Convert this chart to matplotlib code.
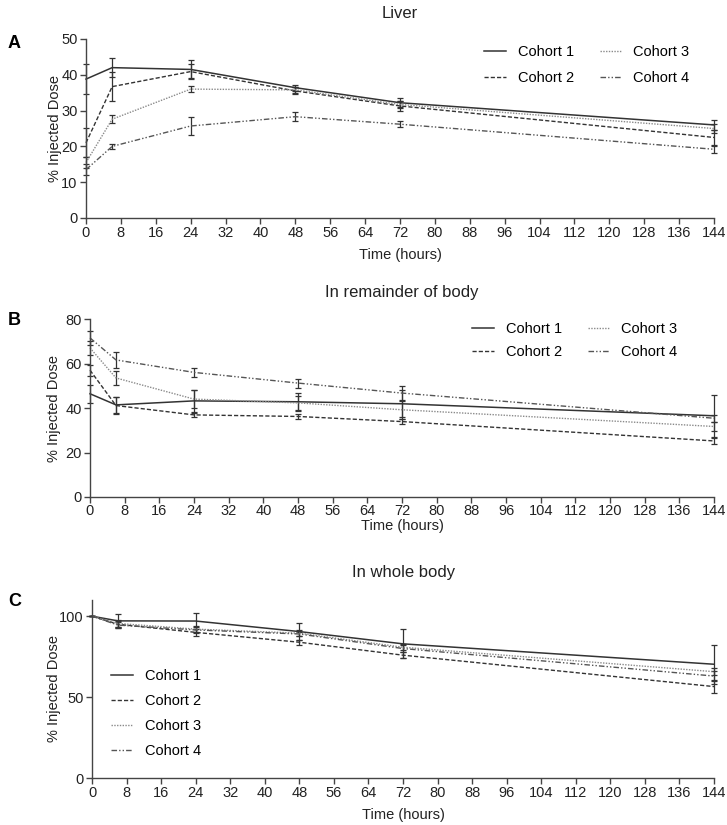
import numpy as np
import matplotlib
matplotlib.use("Agg")
import matplotlib.pyplot as plt

plt.rcParams['font.family'] = ['Liberation Sans', 'DejaVu Sans']

# time points (hours)
hours = [0, 6, 24, 48, 72, 144]
cohorts = ["Cohort 1", "Cohort 2", "Cohort 3", "Cohort 4"]
xticks = list(range(0, 145, 8))

# Liver, % injected dose (mean, error)
liver_c1 = [38.8, 42.0, 41.5, 36.4, 32.2, 26.0]
liver_c2 = [21.0, 36.7, 40.9, 35.5, 31.3, 22.5]
liver_c3 = [15.5, 27.6, 36.0, 35.8, 31.7, 25.0]
liver_c4 = [13.5, 20.0, 25.7, 28.3, 26.2, 19.2]
liver_e1 = [4.2, 2.7, 2.5, 0.8, 1.2, 1.5]
liver_e2 = [4.0, 4.0, 2.0, 1.0, 1.5, 2.0]
liver_e3 = [1.5, 1.2, 0.8, 0.8, 1.0, 1.2]
liver_e4 = [1.5, 0.8, 2.5, 1.2, 0.8, 1.0]

# remainder of body
rem_c1 = [46.4, 41.4, 43.2, 42.8, 41.9, 36.5]
rem_c2 = [57.0, 41.1, 36.9, 36.2, 33.9, 25.2]
rem_c3 = [67.0, 53.5, 44.0, 42.3, 39.2, 31.7]
rem_c4 = [71.5, 61.6, 56.0, 51.2, 46.7, 35.4]
rem_e1 = [4.0, 3.5, 5.0, 4.0, 6.0, 9.5]
rem_e2 = [2.5, 4.0, 1.0, 1.0, 1.0, 1.5]
rem_e3 = [3.0, 3.0, 4.0, 3.0, 4.0, 2.0]
rem_e4 = [3.0, 3.5, 2.0, 2.0, 3.0, 1.5]

# whole body
whole_c1 = [100.0, 97.1, 97.0, 90.5, 82.9, 70.3]
whole_c2 = [100.0, 95.0, 90.0, 83.9, 75.9, 56.5]
whole_c3 = [100.0, 95.5, 92.0, 89.5, 80.8, 65.7]
whole_c4 = [100.0, 94.5, 91.5, 89.0, 80.0, 63.0]
whole_e1 = [0.0, 4.0, 5.0, 5.0, 9.0, 12.0]
whole_e2 = [0.0, 2.0, 2.0, 1.5, 2.0, 4.0]
whole_e3 = [0.0, 2.0, 2.0, 2.0, 2.0, 2.0]
whole_e4 = [0.0, 2.0, 2.0, 1.5, 2.0, 3.0]

W, H = 727, 825
styles = [
    dict(color='#333333', linestyle='-', lw=1.1),
    dict(color='#333333', linestyle=(0, (3, 1.5)), lw=1.0),
    dict(color='#8a8a8a', linestyle=(0, (1, 1)), lw=1.0),
    dict(color='#555555', linestyle=(0, (4, 1.5, 1, 1.5, 1, 1.5)), lw=1.0),
]


def px_axes(fig, left, top, right, bottom):
    return fig.add_axes([left / W, 1 - bottom / H, (right - left) / W, (bottom - top) / H])


def fx(x):
    return x / W


def fy(y):
    return 1 - y / H


def draw_panel(ax, means, errs, ymax, yticks):
    handles = []
    for m, e, st in zip(means, errs, styles):
        c = ax.errorbar(hours, m, yerr=e, color=st['color'], linestyle=st['linestyle'],
                        lw=st['lw'], elinewidth=0.9, ecolor='#333333', capsize=2, capthick=0.9)
        for art in c.get_children():
            art.set_clip_on(False)
        handles.append(c.lines[0])
    ax.set_xlim(0, 144)
    ax.set_ylim(0, ymax)
    ax.set_xticks(xticks)
    ax.set_yticks(yticks)
    for s in ['top', 'right']:
        ax.spines[s].set_visible(False)
    for s in ['left', 'bottom']:
        ax.spines[s].set_color('#444444')
        ax.spines[s].set_linewidth(1.0)
    ax.tick_params(direction='out', length=4, width=1.0, color='#444444',
                   labelsize=10.5, labelcolor='#222222', pad=2)
    ax.set_xlabel("Time (hours)", fontsize=10.5, color='#222222')
    ax.set_ylabel("% Injected Dose", fontsize=10.5, color='#222222')
    return handles


def place_labels(ax, left, top, bottom, right, ylab_x, xlab_top):
    # label positions given in pixels of the figure
    ax.yaxis.set_label_coords(-(left - ylab_x) / (right - left), 0.5)
    ax.xaxis.set_label_coords(0.5, -(xlab_top - bottom) / (bottom - top))


fig = plt.figure(figsize=(W / 100, H / 100), dpi=100)

axA = px_axes(fig, 86, 39, 714, 218)
hA = draw_panel(axA, [liver_c1, liver_c2, liver_c3, liver_c4],
                [liver_e1, liver_e2, liver_e3, liver_e4], 50, [0, 10, 20, 30, 40, 50])
place_labels(axA, 86, 39, 218, 714, 62, 248)

axB = px_axes(fig, 90, 319, 714, 497)
hB = draw_panel(axB, [rem_c1, rem_c2, rem_c3, rem_c4],
                [rem_e1, rem_e2, rem_e3, rem_e4], 80, [0, 20, 40, 60, 80])
axB.tick_params(axis='x', pad=1)
place_labels(axB, 90, 319, 497, 714, 61, 519)

axC = px_axes(fig, 92, 600, 714, 778)
hC = draw_panel(axC, [whole_c1, whole_c2, whole_c3, whole_c4],
                [whole_e1, whole_e2, whole_e3, whole_e4], 110, [0, 50, 100])
place_labels(axC, 92, 600, 778, 714, 61, 808)

# titles and panel letters
fig.text(fx(400), fy(14), "Liver", ha='center', va='center', fontsize=12, color='#222222')
fig.text(fx(402), fy(292), "In remainder of body", ha='center', va='center', fontsize=12, color='#222222')
fig.text(fx(404), fy(573), "In whole body", ha='center', va='center', fontsize=12, color='#222222')
fig.text(fx(8), fy(43), "A", ha='left', va='center', fontsize=13, fontweight='bold')
fig.text(fx(8), fy(320), "B", ha='left', va='center', fontsize=13, fontweight='bold')
fig.text(fx(8), fy(602), "C", ha='left', va='center', fontsize=13, fontweight='bold')

leg_kw = dict(frameon=False, fontsize=10.5, handlelength=1.5, handletextpad=0.8,
              borderpad=0, borderaxespad=0, loc='upper left', bbox_transform=fig.transFigure)
axA.legend(hA, cohorts, ncol=2, columnspacing=1.8, labelspacing=0.85,
           bbox_to_anchor=(fx(484), fy(45)), **leg_kw)
axB.legend(hB, cohorts, ncol=2, columnspacing=1.8, labelspacing=0.6,
           bbox_to_anchor=(fx(472), fy(322)), **leg_kw)
axC.legend(hC, cohorts, ncol=1, labelspacing=0.75,
           bbox_to_anchor=(fx(111), fy(669)), **leg_kw)

fig.savefig("out.png", dpi=100)
